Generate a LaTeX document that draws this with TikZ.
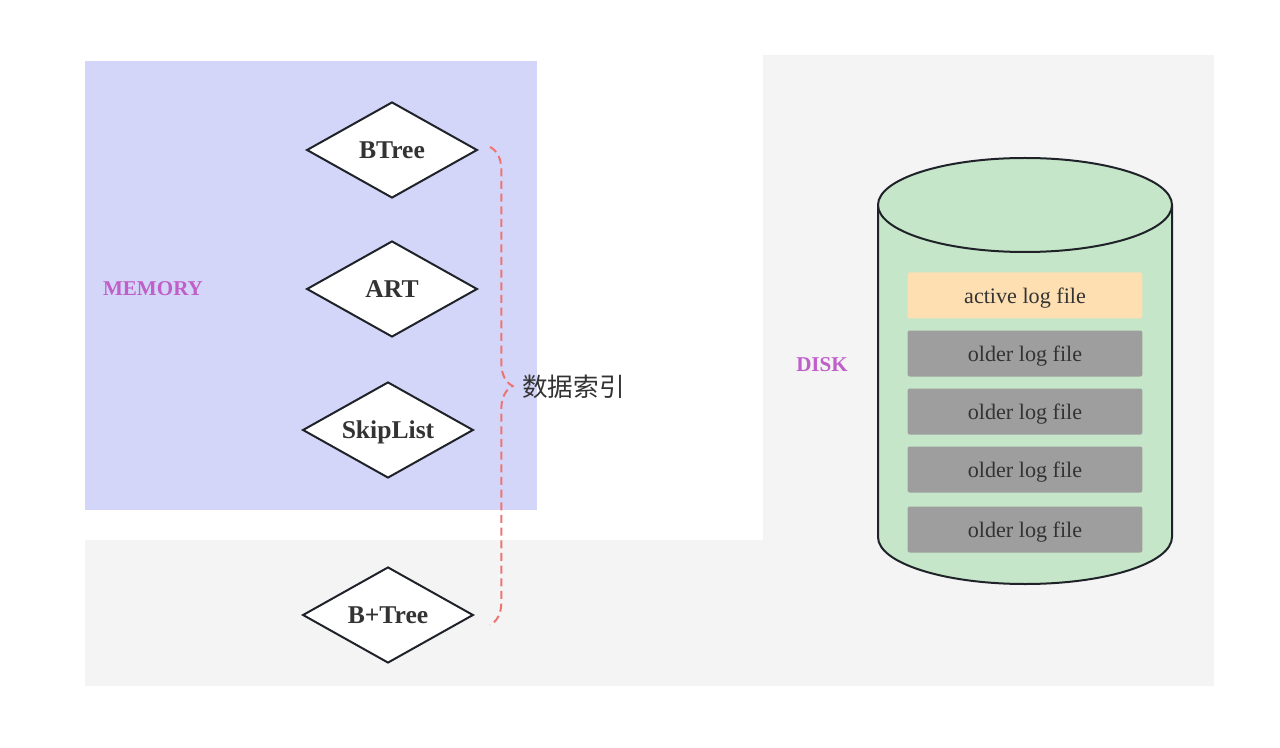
\documentclass[tikz,border=0pt]{standalone}
\usepackage{fontspec}
\setmainfont{Liberation Serif}
\newfontfamily\cjkfont{Noto Sans CJK SC}
\usetikzlibrary{shapes.geometric,decorations.pathreplacing,positioning}

\definecolor{memblue}{HTML}{D3D6F8}
\definecolor{diskgray}{HTML}{F4F4F4}
\definecolor{diskgreen}{HTML}{C6E6C9}
\definecolor{activefill}{HTML}{FDDFB1}
\definecolor{olderfill}{HTML}{9E9E9E}
\definecolor{regionpurple}{HTML}{BF5FC9}
\definecolor{bracered}{HTML}{EE7474}
\definecolor{inkdark}{HTML}{1F2329}
\definecolor{textdark}{HTML}{333333}

\tikzset{
  idx/.style={diamond, draw=inkdark, line width=1.5pt, fill=white, aspect=1.78,
    inner sep=0pt, minimum width=128pt, minimum height=72pt, text=textdark,
    text depth=0pt, font=\bfseries\fontsize{19.2}{21}\selectfont},
  logbox/.style={rounded corners=1.5pt, minimum width=176pt, minimum height=34.5pt,
    inner sep=0pt, text=textdark, text depth=0pt, font=\fontsize{16.6}{18}\selectfont},
  region/.style={text=regionpurple, font=\bfseries\fontsize{15.8}{17}\selectfont},
  cyl/.style={draw=inkdark, line width=1.5pt, fill=diskgreen},
  idxbrace/.style={draw=bracered, line width=1.5pt, dash pattern=on 6pt off 3.5pt,
    decorate, decoration={brace, amplitude=17pt}}
}

\begin{document}
\begin{tikzpicture}[x=0.75pt,y=-0.75pt]
  \useasboundingbox (0,0) rectangle (1280,748);
  % regions
  \fill[diskgray] (763,55) -- (1214,55) -- (1214,686) -- (85,686) -- (85,540) -- (763,540) -- cycle;
  \fill[memblue] (85,61) rectangle (537,510);
  \node[region] (memory) at (153,289) {MEMORY};
  \node[region] (disk) at (822,365) {DISK};
  % index structures
  \node[idx] (btree) at (392,150) {BTree};
  \node[idx] (art) at (392,289) {ART};
  \node[idx] (skiplist) at (388,430) {SkipList};
  \node[idx] (bplustree) at (388,615) {B+Tree};
  % brace
  \coordinate (bracetop) at (490,147);
  \coordinate (bracebot) at (490,625);
  \draw[idxbrace] (bracetop) -- (bracebot);
  \node[text=textdark, anchor=west, inner sep=0pt, font=\cjkfont\fontsize{19.2}{21}\selectfont]
    (idxlabel) at (522,387) {数据索引};
  % disk cylinder
  \draw[cyl] (878,205) -- (878,537) arc[start angle=180,end angle=0,x radius=147,y radius=47] -- (1172,205);
  \draw[cyl] (1025,205) ellipse [x radius=147,y radius=47];
  \node[logbox, fill=activefill] (active) at (1025,295.5) {active log file};
  \foreach \y [count=\i] in {353.5,411.5,469.5,529.5}
    \node[logbox, fill=olderfill] (older\i) at (1025,\y) {older log file};
\end{tikzpicture}
\end{document}
